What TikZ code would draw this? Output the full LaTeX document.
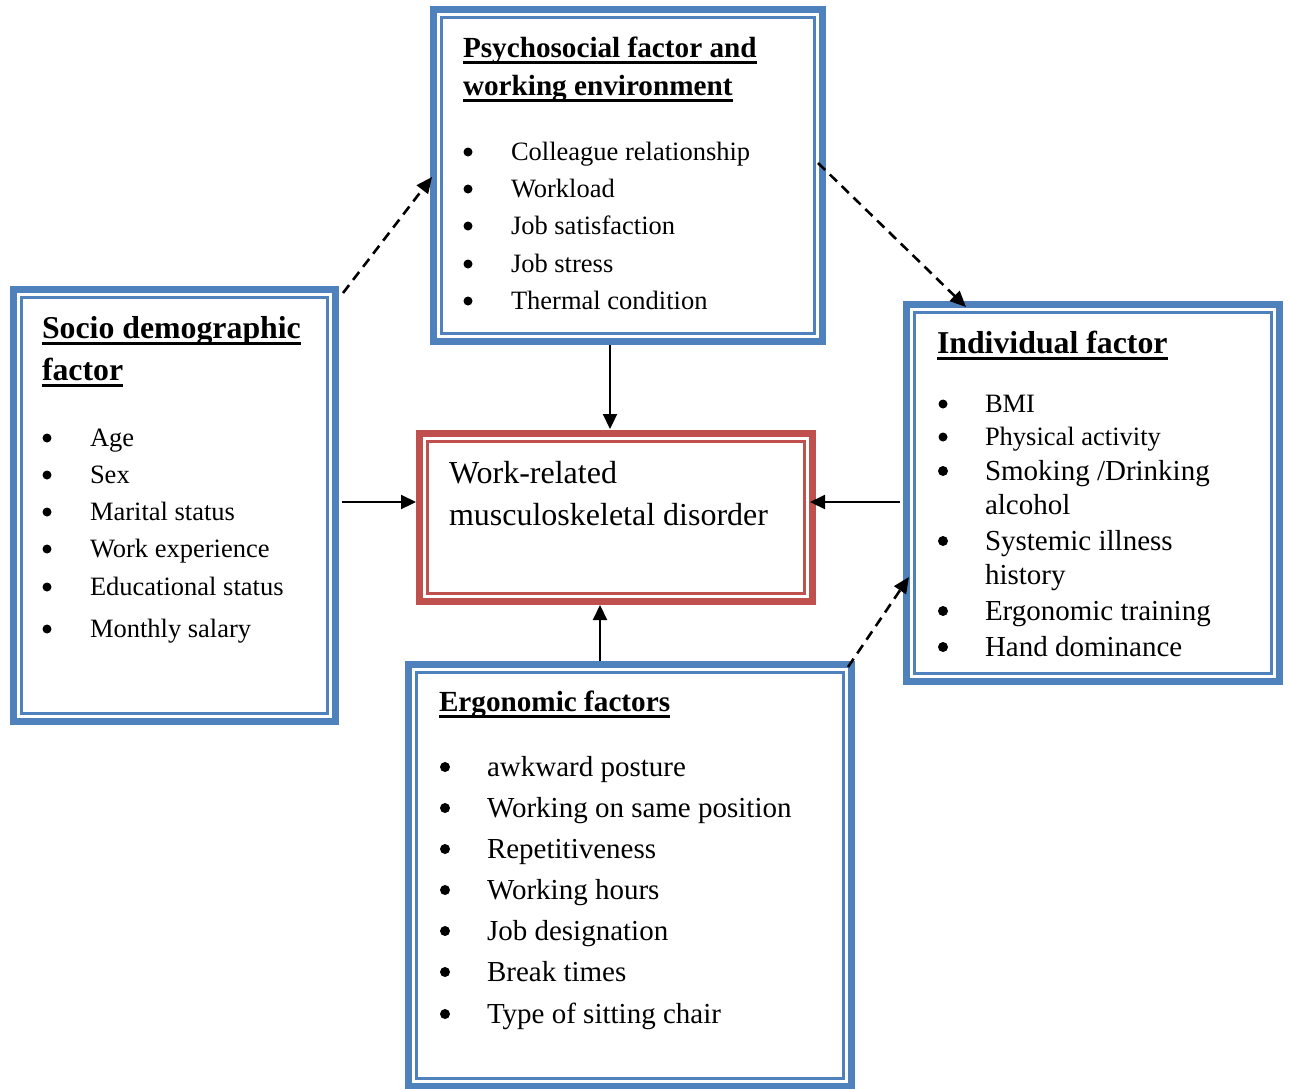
\documentclass[tikz,border=0pt]{standalone}
\usepackage{fontspec}
\setmainfont{Liberation Serif}
\usetikzlibrary{arrows.meta}
\definecolor{bxblue}{HTML}{4F81BD}
\definecolor{bxred}{HTML}{C0504D}
\tikzset{
  boxn/.style={inner sep=0pt, outer sep=0pt, draw=none},
  thickb/.style={line width=7pt},
  thinb/.style={line width=2.4pt},
  txt/.style={inner sep=0pt, outer sep=0pt, anchor=base west, text=black},
  ta/.style={txt, font=\fontsize{26.5}{30}\selectfont},
  tb/.style={txt, font=\fontsize{29}{33}\selectfont},
  tc/.style={txt, font=\fontsize{32}{36}\selectfont},
  hda/.style={txt, font=\fontsize{29.2}{33}\selectfont\bfseries},
  hdb/.style={txt, font=\fontsize{31.8}{36}\selectfont\bfseries},
  uline/.style={line width=3pt},
  solidarrow/.style={line width=2.2pt, -{Triangle[length=15pt,width=14pt]}},
  dasharrow/.style={line width=2.6pt, dash pattern=on 10pt off 6.5pt, -{Triangle[length=16pt,width=14pt]}},
  bul/.style={fill=black}
}
\newcommand{\dblbox}[2]{%
  \draw[thickb,#2] ([shift={(3.5,3.5)}]#1.north west) rectangle ([shift={(-3.5,-3.5)}]#1.south east);
  \draw[thinb,#2] ([shift={(11.5,11.5)}]#1.north west) rectangle ([shift={(-11.5,-11.5)}]#1.south east);
}
\newcommand{\ul}[1]{\draw[uline] ([yshift=-5.5pt]#1.base west) -- ([yshift=-5.5pt]#1.base east);}
\begin{document}
\begin{tikzpicture}[x=1pt,y=-1pt]
\useasboundingbox (0,0) rectangle (1290,1088);
\fill[white] (0,0) rectangle (1290,1088);

% box placeholders
\node[boxn, minimum width=396pt, minimum height=339pt] (psych) at (628,175.5) {};
\node[boxn, minimum width=329pt, minimum height=439pt] (socio) at (174.5,505.5) {};
\node[boxn, minimum width=380pt, minimum height=384pt] (indiv) at (1093,493) {};
\node[boxn, minimum width=450pt, minimum height=429pt] (ergo) at (630,875.5) {};
\node[boxn, minimum width=400pt, minimum height=175pt] (red) at (616,517.5) {};

\dblbox{psych}{bxblue}
\dblbox{socio}{bxblue}
\dblbox{indiv}{bxblue}
\dblbox{ergo}{bxblue}
\dblbox{red}{bxred}

% Psychosocial
\node[hda] (ph1) at (463,57) {Psychosocial factor and};
\node[hda] (ph2) at (463,95) {working environment};
\ul{ph1}\ul{ph2}
\foreach \y/\t [count=\i] in {152/Colleague relationship,189/Workload,226/Job satisfaction,264/Job stress,301/Thermal condition}{
  \fill[bul] (468,\y) circle[radius=4.5pt];
  \node[ta] (pl\i) at (511,\y+8) {\t};
}

% Socio demographic
\node[hdb] (sh1) at (42,338) {Socio demographic};
\node[hdb] (sh2) at (42,380) {factor};
\ul{sh1}\ul{sh2}
\foreach \y/\t [count=\i] in {438/Age,475/Sex,512/Marital status,549/Work experience,587/Educational status,629/Monthly salary}{
  \fill[bul] (47,\y) circle[radius=4.5pt];
  \node[ta] (sl\i) at (90,\y+8) {\t};
}

% Individual
\node[hdb] (ih1) at (937,353) {Individual factor};
\ul{ih1}
\fill[bul] (943,404) circle[radius=4.5pt];
\node[ta] (il1) at (985,412) {BMI};
\fill[bul] (943,437) circle[radius=4.5pt];
\node[ta] (il2) at (985,445) {Physical activity};
\fill[bul] (943,471) circle[radius=5pt];
\node[tb] (il3) at (985,480) {Smoking /Drinking};
\node[tb] (il4) at (985,514) {alcohol};
\fill[bul] (943,541) circle[radius=5pt];
\node[tb] (il5) at (985,550) {Systemic illness};
\node[tb] (il6) at (985,584) {history};
\fill[bul] (943,611) circle[radius=5pt];
\node[tb] (il7) at (985,620) {Ergonomic training};
\fill[bul] (943,647) circle[radius=5pt];
\node[tb] (il8) at (985,656) {Hand dominance};

% Ergonomic
\node[hda] (eh1) at (439,711) {Ergonomic factors};
\ul{eh1}
\foreach \y/\t [count=\i] in {767/awkward posture,808/Working on same position,849/Repetitiveness,890/Working hours,931/Job designation,972/Break times,1014/Type of sitting chair}{
  \fill[bul] (445,\y) circle[radius=5pt];
  \node[tb] (el\i) at (487,\y+9) {\t};
}

% Central
\node[tc] (c1) at (449,483) {Work-related};
\node[tc] (c2) at (449,525) {musculoskeletal disorder};

% connectors
\coordinate (xa) at (610,0);
\coordinate (xb) at (600,0);
\coordinate (ya) at (0,502);
\draw[solidarrow] (psych.south -| xa) -- ([yshift=1pt]red.north -| xa);
\draw[solidarrow] (ergo.north -| xb) -- (red.south -| xb);
\draw[solidarrow] ([xshift=3pt]socio.east |- ya) -- (red.west |- ya);
\draw[solidarrow] ([xshift=-3pt]indiv.west |- ya) -- ([xshift=-6pt]red.east |- ya);

\coordinate (d1s) at (343,293);
\coordinate (d1e) at (432,177);
\coordinate (d2s) at (818,163);
\coordinate (d2e) at (966,307);
\coordinate (d3s) at (848,667);
\coordinate (d3e) at (909,577);
\draw[dasharrow] (d1s) -- (d1e);
\draw[dasharrow] (d2s) -- (d2e);
\draw[dasharrow] (d3s) -- (d3e);
\end{tikzpicture}
\end{document}
